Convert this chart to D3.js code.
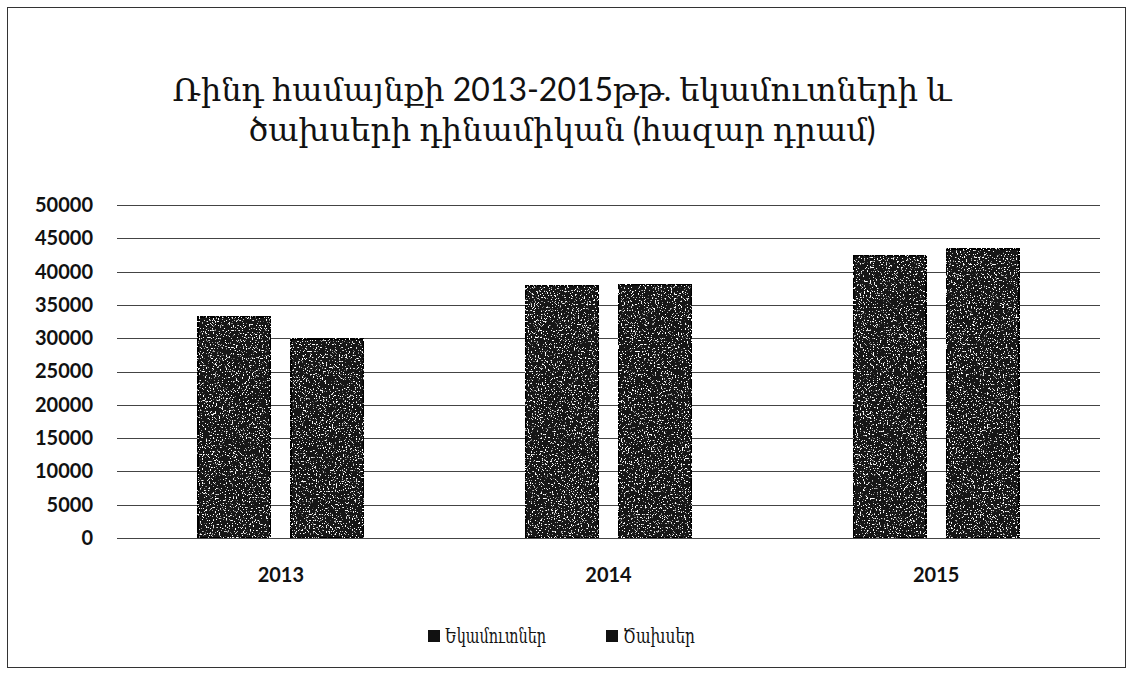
<!DOCTYPE html>
<html>
<head>
<meta charset="utf-8">
<script src="https://cdn.jsdelivr.net/npm/d3@7"></script>
<style>
  body { margin: 0; background: #fff; }
  text { fill: #111; }
</style>
</head>
<body>
<div id="chart"></div>
<script>
const WIDTH = 1129;
const HEIGHT = 673;

const years = ["2013", "2014", "2015"];
const seriesNames = ["Եկամուտներ", "Ծախսեր"];
const income = [33200, 37900, 42400];
const expenses = [29900, 38100, 43400];
const yTicks = [0, 5000, 10000, 15000, 20000, 25000, 30000, 35000, 40000, 45000, 50000];
const titleLines = [
  "Ռինդ համայնքի 2013-2015թթ. եկամուտների և",
  "ծախսերի դինամիկան (հազար դրամ)",
];

const rows = years.map((year, i) => ({ year, values: [income[i], expenses[i]] }));

const svg = d3
  .select("#chart")
  .append("svg")
  .attr("width", WIDTH)
  .attr("height", HEIGHT);

// grainy dark fill like the scanned bars
const defs = svg.append("defs");
const grain = defs.append("filter").attr("id", "grain").attr("x", 0).attr("y", 0).attr("width", 1).attr("height", 1);
grain.append("feTurbulence").attr("type", "fractalNoise").attr("baseFrequency", 0.7).attr("numOctaves", 2).attr("seed", 3).attr("result", "noise");
grain
  .append("feColorMatrix")
  .attr("in", "noise")
  .attr("type", "matrix")
  .attr("values", "0 0 0 0 1  0 0 0 0 1  0 0 0 0 1  0 0 0 12 -7.4")
  .attr("result", "speck");
grain.append("feComposite").attr("in", "speck").attr("in2", "SourceGraphic").attr("operator", "in").attr("result", "speckIn");
grain.append("feMerge").call((m) => {
  m.append("feMergeNode").attr("in", "SourceGraphic");
  m.append("feMergeNode").attr("in", "speckIn");
});

// chart frame
svg
  .append("rect")
  .attr("x", 7.5)
  .attr("y", 7.5)
  .attr("width", 1118)
  .attr("height", 660)
  .attr("fill", "none")
  .attr("stroke", "#333")
  .attr("stroke-width", 1);

// title
const title = svg
  .append("text")
  .attr("text-anchor", "middle")
  .attr("font-family", "Lato, 'DejaVu Serif', serif")
  .attr("font-size", "32px");
titleLines.forEach((line, i) => {
  title
    .append("tspan")
    .attr("x", 562)
    .attr("y", 101 + i * 40)
    .text(line);
});

const x = d3.scaleBand().domain(years).range([117, 1100]).padding(0);
const groupWidth = 166;
const xInner = d3
  .scaleBand()
  .domain(seriesNames)
  .range([0, groupWidth])
  .paddingInner(0.215)
  .paddingOuter(0);
const y = d3.scaleLinear().domain([0, 50000]).range([538, 205]);

// gridlines
svg
  .append("g")
  .selectAll("line")
  .data(yTicks)
  .join("line")
  .attr("x1", 117)
  .attr("x2", 1100)
  .attr("y1", (d) => Math.round(y(d)) + 0.5)
  .attr("y2", (d) => Math.round(y(d)) + 0.5)
  .attr("stroke", "#444")
  .attr("stroke-width", 1);

// y axis labels
const yAxis = svg
  .append("g")
  .attr("transform", "translate(100,0)")
  .call(d3.axisLeft(y).tickValues(yTicks).tickSize(0).tickPadding(7).tickFormat(d3.format("d")));
yAxis.select(".domain").remove();
yAxis
  .selectAll("text")
  .attr("font-family", "Lato, sans-serif")
  .attr("font-weight", "bold")
  .attr("font-size", "20px")
  .attr("fill", "#111");

// bars
const groups = svg
  .append("g")
  .selectAll("g")
  .data(rows)
  .join("g")
  .attr("transform", (d) => `translate(${x(d.year) + (x.bandwidth() - groupWidth) / 2},0)`);

groups
  .selectAll("rect")
  .data((d) => d.values.map((v, i) => ({ name: seriesNames[i], value: v })))
  .join("rect")
  .attr("x", (d) => xInner(d.name))
  .attr("y", (d) => y(d.value))
  .attr("width", xInner.bandwidth())
  .attr("height", (d) => y(0) - y(d.value))
  .attr("fill", "#141414")
  .attr("stroke", "#000")
  .attr("stroke-width", 2)
  .attr("filter", "url(#grain)");

// x axis labels
const xAxis = svg
  .append("g")
  .attr("transform", "translate(0,538)")
  .call(d3.axisBottom(x).tickSize(0).tickPadding(30));
xAxis.select(".domain").remove();
xAxis
  .selectAll("text")
  .attr("font-family", "Lato, sans-serif")
  .attr("font-weight", "bold")
  .attr("font-size", "20px")
  .attr("fill", "#111");

// legend
const legendItems = [
  { name: seriesNames[0], x: 428, w: 101 },
  { name: seriesNames[1], x: 606, w: 72 },
];
const legend = svg
  .append("g")
  .selectAll("g")
  .data(legendItems)
  .join("g")
  .attr("transform", (d) => `translate(${d.x},636)`);
legend
  .append("rect")
  .attr("x", 0)
  .attr("y", -6)
  .attr("width", 12)
  .attr("height", 12)
  .attr("fill", "#111");
legend
  .append("text")
  .attr("x", 17)
  .attr("y", 7)
  .attr("font-family", "'DejaVu Serif', serif")
  .attr("font-size", "21px")
  .attr("textLength", (d) => d.w)
  .attr("lengthAdjust", "spacingAndGlyphs")
  .text((d) => d.name);
</script>
</body>
</html>
